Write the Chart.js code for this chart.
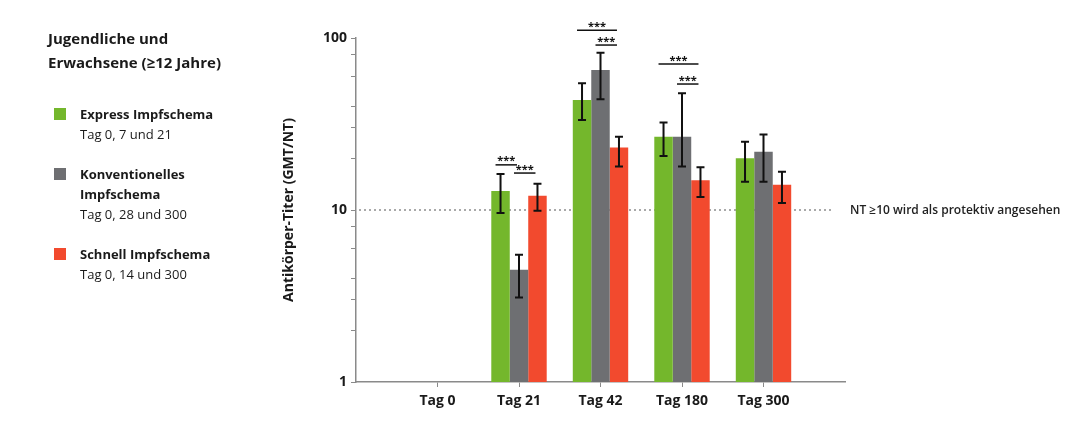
<!DOCTYPE html>
<html>
<head>
<meta charset="utf-8">
<script src="https://cdn.jsdelivr.net/npm/chart.js@4/dist/chart.umd.min.js"></script>
<style>
  html, body { margin: 0; padding: 0; background: #fff; }
  body { width: 1091px; height: 442px; position: relative; overflow: hidden; font-family: 'Open Sans', sans-serif; color: #1a1a1a; }
  #wrap { position: absolute; left: 0; top: 0; width: 1091px; height: 442px; }
  .legend { position: absolute; left: 48px; top: 26px; }
  .legend .title { font-weight: 700; font-size: 15px; line-height: 24px; }
  .item { position: absolute; left: 32px; font-size: 13px; line-height: 20px; white-space: nowrap; }
  .item b { font-weight: 700; }
  .sw { position: absolute; left: -26px; top: 4px; width: 12px; height: 12px; }
</style>
</head>
<body>
<div id="wrap"><canvas id="chart" width="1091" height="442"></canvas></div>
<div class="legend">
  <div class="title">Jugendliche und<br>Erwachsene (≥12 Jahre)</div>
</div>
<div id="items"></div>
<script>
const categories = ['', 'Tag 0', 'Tag 21', 'Tag 42', 'Tag 180', 'Tag 300', ''];

const expressValues = [null, null, 12.9, 43.6, 26.7, 20.0, null];
const expressLow    = [null, null, 9.6, 33.4, 20.6, 14.6, null];
const expressHigh   = [null, null, 16.2, 54.5, 32.3, 24.9, null];

const konvValues = [null, null, 4.5, 65.2, 26.7, 21.8, null];
const konvLow    = [null, null, 3.1, 44.0, 17.9, 14.6, null];
const konvHigh   = [null, null, 5.5, 82.2, 47.7, 27.5, null];

const schnellValues = [null, null, 12.1, 23.1, 14.9, 14.0, null];
const schnellLow    = [null, null, 9.9, 17.9, 11.9, 11.0, null];
const schnellHigh   = [null, null, 14.2, 26.7, 17.7, 16.7, null];

const yTickValues = [1, 2, 3, 4, 6, 8, 10, 20, 30, 40, 60, 80, 100];
const yTickLabels = [1, 10, 100];
const threshold = 10;
const thresholdText = 'NT ≥10 wird als protektiv angesehen';

// significance brackets: category index, from dataset, to dataset, height (titer)
const brackets = [
  { cat: 2, from: 0, to: 1, level: 18.3 },
  { cat: 2, from: 1, to: 2, level: 16.4 },
  { cat: 3, from: 0, to: 2, level: 111 },
  { cat: 3, from: 1, to: 2, level: 91 },
  { cat: 4, from: 0, to: 2, level: 70.6 },
  { cat: 4, from: 1, to: 2, level: 54 }
];

const series = [
  { name: 'Express Impfschema', sub: ['Tag 0, 7 und 21'], color: '#74b72c', values: expressValues, low: expressLow, high: expressHigh, top: 104 },
  { name: 'Konventionelles', sub: ['<b>Impfschema</b>', 'Tag 0, 28 und 300'], color: '#6e6f72', values: konvValues, low: konvLow, high: konvHigh, top: 164 },
  { name: 'Schnell Impfschema', sub: ['Tag 0, 14 und 300'], color: '#f24a2e', values: schnellValues, low: schnellLow, high: schnellHigh, top: 244 }
];

document.getElementById('items').innerHTML = series.map(s => `
  <div class="item" style="top:${s.top}px;left:80px">
    <span class="sw" style="background:${s.color}"></span>
    <b>${s.name}</b><br>${s.sub.join('<br>')}
  </div>`).join('');

const axisColor = '#8a8a8a';
const font = { family: "'Open Sans', sans-serif", size: 14, weight: '700' };

const thresholdLine = {
  id: 'thresholdLine',
  beforeDatasetsDraw(chart) {
    const { ctx, chartArea, scales } = chart;
    const y = scales.y.getPixelForValue(threshold);
    ctx.save();
    ctx.strokeStyle = '#a9a9a9';
    ctx.lineWidth = 2;
    ctx.setLineDash([2, 3]);
    ctx.beginPath();
    ctx.moveTo(chartArea.left + 3, y);
    ctx.lineTo(chartArea.right - 12, y);
    ctx.stroke();
    ctx.restore();
  },
  afterDraw(chart) {
    const { ctx, chartArea, scales } = chart;
    const y = scales.y.getPixelForValue(threshold);
    ctx.save();
    ctx.fillStyle = '#222';
    ctx.font = "600 12px 'Open Sans', sans-serif";
    ctx.textBaseline = 'middle';
    ctx.fillText(thresholdText, chartArea.right + 5, y + 1);
    ctx.restore();
  }
};

const errorBars = {
  id: 'errorBars',
  afterDatasetsDraw(chart) {
    const { ctx, scales } = chart;
    ctx.save();
    ctx.strokeStyle = '#111';
    ctx.lineWidth = 2;
    series.forEach((s, i) => {
      chart.getDatasetMeta(i).data.forEach((bar, j) => {
        if (s.values[j] == null) return;
        const yHi = scales.y.getPixelForValue(s.high[j]);
        const yLo = scales.y.getPixelForValue(s.low[j]);
        ctx.beginPath();
        ctx.moveTo(bar.x, yHi); ctx.lineTo(bar.x, yLo);
        ctx.moveTo(bar.x - 4, yHi); ctx.lineTo(bar.x + 4, yHi);
        ctx.moveTo(bar.x - 4, yLo); ctx.lineTo(bar.x + 4, yLo);
        ctx.stroke();
      });
    });
    ctx.restore();
  }
};

const sigBrackets = {
  id: 'sigBrackets',
  afterDraw(chart) {
    const { ctx, scales } = chart;
    ctx.save();
    ctx.strokeStyle = '#111';
    ctx.fillStyle = '#111';
    ctx.lineWidth = 1.5;
    ctx.font = "700 11px 'Open Sans', sans-serif";
    ctx.textAlign = 'center';
    ctx.textBaseline = 'bottom';
    brackets.forEach(b => {
      const x1 = chart.getDatasetMeta(b.from).data[b.cat].x - 5;
      const x2 = chart.getDatasetMeta(b.to).data[b.cat].x - 2;
      const y = scales.y.getPixelForValue(b.level);
      ctx.beginPath();
      ctx.moveTo(x1, y); ctx.lineTo(x2, y);
      ctx.stroke();
      ctx.fillText('***', (x1 + x2) / 2, y + 2);
    });
    ctx.restore();
  }
};

new Chart(document.getElementById('chart'), {
  type: 'bar',
  data: {
    labels: categories,
    datasets: series.map(s => ({
      label: s.name,
      data: s.values,
      backgroundColor: s.color,
      borderWidth: 0,
      categoryPercentage: 0.68,
      barPercentage: 1
    }))
  },
  options: {
    responsive: false,
    animation: false,
    layout: { padding: { left: 270, right: 246, top: 38, bottom: 15 } },
    plugins: { legend: { display: false }, tooltip: { enabled: false } },
    scales: {
      x: {
        offset: false,
        grid: {
          offset: false,
          drawOnChartArea: false,
          tickLength: 5,
          color: ctx => (ctx.tick && ctx.tick.label ? axisColor : 'rgba(0,0,0,0)')
        },
        border: { color: axisColor, width: 1.5 },
        ticks: { color: '#1a1a1a', font, padding: 6, maxRotation: 0, autoSkip: false },
        afterFit: scale => { scale.height = 45; }
      },
      y: {
        type: 'logarithmic',
        min: 1,
        max: 100,
        afterBuildTicks: scale => { scale.ticks = yTickValues.map(v => ({ value: v })); },
        grid: { drawOnChartArea: false, tickLength: 5, color: axisColor },
        border: { color: axisColor, width: 1.5 },
        ticks: {
          color: '#1a1a1a',
          font,
          padding: 4,
          autoSkip: false,
          callback: v => (yTickLabels.includes(v) ? String(v) : '')
        },
        title: {
          display: true,
          text: 'Antikörper-Titer (GMT/NT)',
          color: '#1a1a1a',
          font,
          padding: { top: 11, bottom: 0 }
        },
        afterFit: scale => { scale.width = 86; }
      }
    }
  },
  plugins: [thresholdLine, errorBars, sigBrackets]
});
</script>
</body>
</html>
